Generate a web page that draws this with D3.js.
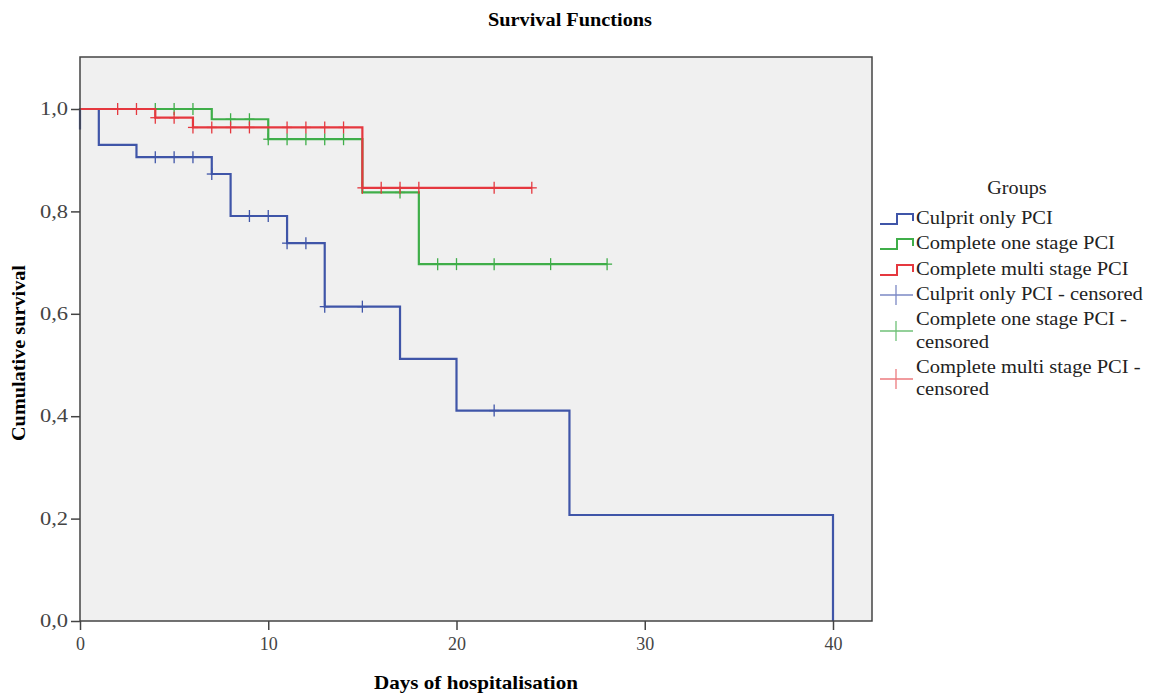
<!DOCTYPE html>
<html>
<head>
<meta charset="utf-8">
<script src="https://cdn.jsdelivr.net/npm/d3@7"></script>
<style>
  body { margin: 0; background: #fff; }
  svg text { font-family: "Liberation Serif", "Times New Roman", serif; }
</style>
</head>
<body>
<svg id="chart" width="1151" height="695"></svg>
<script>
// step points (time, survival) for each group
var blueTimes = [0, 0, 1, 3, 7, 8, 11, 13, 17, 20, 26, 40];
var blueSurv  = [0.96, 1.0, 0.93, 0.906, 0.873, 0.791, 0.738, 0.614, 0.512, 0.411, 0.207, 0.0];
var greenTimes = [0, 7, 10, 15, 18, 28];
var greenSurv  = [1.0, 0.980, 0.941, 0.837, 0.697, 0.697];
var redTimes = [0, 4, 6, 15, 24];
var redSurv  = [1.0, 0.983, 0.964, 0.846, 0.846];

// censored times
var blueCensor  = [4, 5, 6, 7, 9, 10, 11, 12, 13, 15, 22];
var greenCensor = [4, 5, 6, 8, 9, 10, 11, 12, 13, 14, 17, 19, 20, 22, 25, 28];
var redCensor   = [2, 3, 4, 5, 6, 7, 8, 9, 11, 12, 13, 14, 15, 16, 17, 18, 22, 24];

var groupNames = ["Culprit only PCI", "Complete one stage PCI", "Complete multi stage PCI"];
var censorNames = [["Culprit only PCI - censored"], ["Complete one stage PCI -", "censored"], ["Complete multi stage PCI -", "censored"]];
var colors = ["#3f55a8", "#3fae49", "#e5383f"];
var censorColors = ["#7b88c4", "#6fc177", "#ec7a7e"];

var xTicks = [0, 10, 20, 30, 40];
var yTicks = [0, 0.2, 0.4, 0.6, 0.8, 1.0];

var svg = d3.select("#chart");

var x = d3.scaleLinear().domain([0, 40]).range([80, 833]);
var y = d3.scaleLinear().domain([0, 1]).range([621, 109]);

var plotLeft = 80, plotRight = 872, plotTop = 57, plotBottom = 621;

// widen text a bit, the original font renders wider than Times
function stretch(sel, k) {
    sel.each(function() {
        var w = this.getComputedTextLength();
        d3.select(this).attr("textLength", w * k).attr("lengthAdjust", "spacingAndGlyphs");
    });
}

// plot background
svg.append("rect")
    .attr("x", plotLeft).attr("y", plotTop)
    .attr("width", plotRight - plotLeft).attr("height", plotBottom - plotTop)
    .style("fill", "#f0f0f0");

// title
svg.append("text")
    .attr("x", 570).attr("y", 26)
    .attr("text-anchor", "middle")
    .style("font-size", "18px").style("font-weight", "bold")
    .attr("textLength", 164).attr("lengthAdjust", "spacingAndGlyphs")
    .text("Survival Functions");

// curves
var line = d3.line()
    .x(function(d) { return x(d[0]); })
    .y(function(d) { return y(d[1]); })
    .curve(d3.curveStepAfter);

var series = [
    {times: blueTimes, surv: blueSurv, censor: blueCensor},
    {times: greenTimes, surv: greenSurv, censor: greenCensor},
    {times: redTimes, surv: redSurv, censor: redCensor}
];

function survAt(s, t) {
    var v = s.surv[0];
    for (var i = 0; i < s.times.length; i++) {
        if (s.times[i] <= t) v = s.surv[i];
    }
    return v;
}

series.forEach(function(s, k) {
    var pts = s.times.map(function(t, i) { return [t, s.surv[i]]; });
    svg.append("path")
        .datum(pts)
        .attr("d", line)
        .style("fill", "none")
        .style("stroke", colors[k])
        .style("stroke-width", 2.2);

    svg.selectAll(".censor" + k)
        .data(s.censor)
        .enter()
        .append("line")
        .attr("class", "censor" + k)
        .attr("x1", function(d) { return x(d); })
        .attr("x2", function(d) { return x(d); })
        .attr("y1", function(d) { return y(survAt(s, d)) - 6; })
        .attr("y2", function(d) { return y(survAt(s, d)) + 6; })
        .style("stroke", colors[k])
        .style("stroke-width", 1.3);
    // short horizontal bar for the cross
    svg.selectAll(".censorh" + k)
        .data(s.censor)
        .enter()
        .append("line")
        .attr("class", "censorh" + k)
        .attr("x1", function(d) { return x(d) - 5; })
        .attr("x2", function(d) { return x(d) + 5; })
        .attr("y1", function(d) { return y(survAt(s, d)); })
        .attr("y2", function(d) { return y(survAt(s, d)); })
        .style("stroke", colors[k])
        .style("stroke-width", 1.3);
});

// frame
svg.append("rect")
    .attr("x", plotLeft).attr("y", plotTop)
    .attr("width", plotRight - plotLeft).attr("height", plotBottom - plotTop)
    .style("fill", "none")
    .style("stroke", "#444")
    .style("stroke-width", 1.5);

// axes
var xAxis = d3.axisBottom(x).tickValues(xTicks).tickSize(9).tickSizeOuter(0).tickPadding(7)
    .tickFormat(d3.format("d"));
var gx = svg.append("g").attr("transform", "translate(0," + plotBottom + ")").call(xAxis);
gx.select(".domain").remove();

var yAxis = d3.axisLeft(y).tickValues(yTicks).tickSize(9).tickSizeOuter(0).tickPadding(3)
    .tickFormat(function(d) { return d.toFixed(1).replace(".", ","); });
var gy = svg.append("g").attr("transform", "translate(" + plotLeft + ",0)").call(yAxis);
gy.select(".domain").remove();

[gx, gy].forEach(function(g) {
    g.attr("font-family", null).attr("font-size", null);
    g.selectAll("line").style("stroke", "#444").style("stroke-width", 1.5);
    g.selectAll("text").style("font-size", "18px").style("fill", "#444")
        .style("font-family", "'Liberation Serif', serif");
});
gy.selectAll("text").call(stretch, 1.25);

// axis titles
svg.append("text")
    .attr("x", 476).attr("y", 689)
    .attr("text-anchor", "middle")
    .style("font-size", "19px").style("font-weight", "bold")
    .attr("textLength", 204).attr("lengthAdjust", "spacingAndGlyphs")
    .text("Days of hospitalisation");

svg.append("text")
    .attr("transform", "translate(25,353) rotate(-90)")
    .attr("text-anchor", "middle")
    .style("font-size", "19px").style("font-weight", "bold")
    .attr("textLength", 176).attr("lengthAdjust", "spacingAndGlyphs")
    .text("Cumulative survival");

// legend
var legend = svg.append("g");
legend.append("text")
    .attr("x", 1017).attr("y", 194)
    .attr("text-anchor", "middle")
    .style("font-size", "18px").style("fill", "#222")
    .text("Groups")
    .call(stretch, 1.12);

var rowY = [219, 244, 270];
groupNames.forEach(function(name, k) {
    var cy = rowY[k];
    legend.append("path")
        .attr("d", "M880," + (cy + 5) + "H897V" + (cy - 5) + "H913V" + (cy + 2))
        .style("fill", "none").style("stroke", colors[k]).style("stroke-width", 2);
    legend.append("text")
        .attr("x", 916).attr("y", cy + 5)
        .style("font-size", "18px").style("fill", "#222")
        .text(name)
        .call(stretch, 1.14);
});

var censorRowY = [[295], [320, 343], [368, 390]];
var censorMarkY = [295, 331, 379];
censorNames.forEach(function(lines, k) {
    var my = censorMarkY[k];
    legend.append("line")
        .attr("x1", 880).attr("x2", 913).attr("y1", my).attr("y2", my)
        .style("stroke", censorColors[k]).style("stroke-width", 1.3);
    legend.append("line")
        .attr("x1", 896).attr("x2", 896).attr("y1", my - 10).attr("y2", my + 10)
        .style("stroke", censorColors[k]).style("stroke-width", 1.3);
    lines.forEach(function(t, j) {
        legend.append("text")
            .attr("x", 916).attr("y", censorRowY[k][j] + 5)
            .style("font-size", "18px").style("fill", "#222")
            .text(t)
            .call(stretch, 1.14);
    });
});
</script>
</body>
</html>
